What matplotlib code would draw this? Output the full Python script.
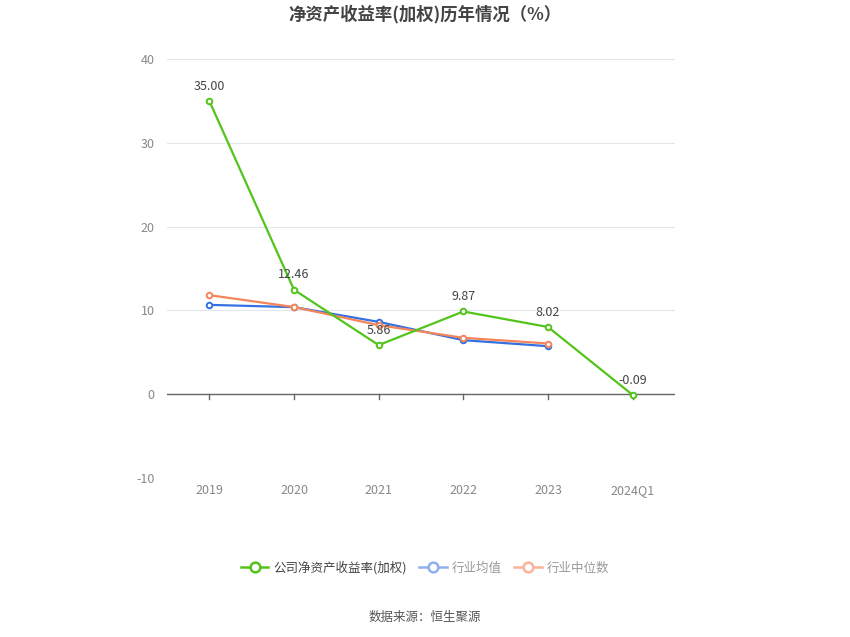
import matplotlib
matplotlib.use("Agg")
import matplotlib.pyplot as plt
from matplotlib.lines import Line2D

plt.rcParams['font.family'] = ['Noto Sans CJK SC', 'DejaVu Sans']

categories = ["2019", "2020", "2021", "2022", "2023", "2024Q1"]
company = [35.00, 12.46, 5.86, 9.87, 8.02, -0.09]
industry_avg = [10.66, 10.39, 8.63, 6.45, 5.73]
industry_med = [11.82, 10.40, 8.24, 6.73, 6.05]
yticks = [-10, 0, 10, 20, 30, 40]

green = "#52c41a"
blue = "#3570e0"
orange = "#f5855a"

fig = plt.figure(figsize=(8.5, 6.37), dpi=100)
ax = fig.add_axes([167/850, 1-478/637, (675-167)/850, (478-59)/637])

x = list(range(len(categories)))
ax.plot(x[:5], industry_avg, color=blue, lw=1.6, marker='o', ms=4,
        mfc='white', mec=blue, mew=1.4, zorder=3)
ax.plot(x[:5], industry_med, color=orange, lw=1.6, marker='o', ms=4,
        mfc='white', mec=orange, mew=1.4, zorder=4)
ax.plot(x, company, color=green, lw=1.6, marker='o', ms=4,
        mfc='white', mec=green, mew=1.4, zorder=5)

for xi, v in zip(x, company):
    ax.annotate(f"{v:.2f}", (xi, v), xytext=(0, 6), textcoords='offset points',
                ha='center', va='bottom', fontsize=9, color='#444444', zorder=6)

ax.set_xlim(-0.5, len(categories) - 0.5)
ax.set_ylim(-10, 40)
ax.set_yticks(yticks)
ax.set_yticklabels([str(t) for t in yticks])
ax.set_xticks(x)
ax.set_xticklabels(categories)
ax.grid(axis='y', color='#e3e6ec', lw=0.8)
ax.set_axisbelow(True)
for s in ['top', 'right', 'left', 'bottom']:
    ax.spines[s].set_visible(False)
ax.axhline(0, color='#666666', lw=1, zorder=2)
ax.tick_params(axis='y', length=0, labelsize=9, labelcolor='#888888', pad=9)
ax.tick_params(axis='x', length=0, labelsize=9, labelcolor='#888888', pad=4)
# ticks on zero line
for xi in x:
    ax.plot([xi, xi], [0, -0.6], color='#666666', lw=1, clip_on=False, zorder=2)

fig.text(0.5, 1-14/637, "净资产收益率(加权)历年情况（%）", ha='center', va='center',
         fontsize=12.5, fontweight='bold', color='#444444')

handles = [
    Line2D([], [], color=green, lw=1.8, marker='o', ms=7, mfc='white', mec=green, mew=1.8),
    Line2D([], [], color='#8fb0f0', lw=1.8, marker='o', ms=7, mfc='white', mec='#8fb0f0', mew=1.8),
    Line2D([], [], color='#f9b49a', lw=1.8, marker='o', ms=7, mfc='white', mec='#f9b49a', mew=1.8),
]
leg = fig.legend(handles, ["公司净资产收益率(加权)", "行业均值", "行业中位数"],
                 loc='center', bbox_to_anchor=(0.5, 1-568/637), ncol=3, frameon=False,
                 fontsize=9, handlelength=2.2, columnspacing=1.0, handletextpad=0.4)
for t, c in zip(leg.get_texts(), ['#444444', '#999999', '#999999']):
    t.set_color(c)

fig.text(0.5, 1-617/637, "数据来源：恒生聚源", ha='center', va='center',
         fontsize=9, color='#555555')

fig.savefig("out.png", dpi=100)
